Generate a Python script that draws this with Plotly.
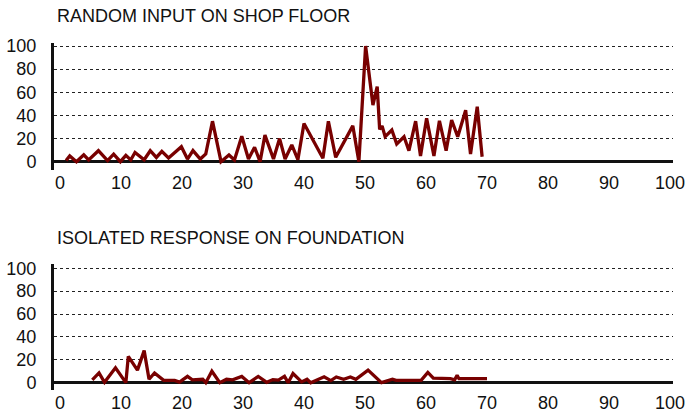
import plotly.graph_objects as go

# Top chart: random input on shop floor
top_x = [1, 1.6, 2.7, 3.9, 4.7, 6.3, 7.8, 8.8, 9.9, 10.8, 11.6, 12.3, 13.8, 14.8, 15.8,
         16.7, 17.8, 19.9, 20.9, 21.8, 23, 23.9, 25, 26.4, 27.7, 28.6, 29.8, 30.9, 31.9,
         32.8, 33.6, 35, 36, 36.9, 38, 39, 40, 43.1, 44, 45.2, 48, 49, 50.1, 51.3, 52,
         52.4, 52.8, 53.3, 54.4, 55.2, 56.4, 57.2, 58.3, 59.1, 60.1, 61.3, 62.2, 63.3,
         64.2, 65.2, 66.5, 67.3, 68.4, 69.2]
top_y = [1, 5, 0, 6, 1.5, 9.5, 1, 6.5, 0, 5.5, 1.5, 8, 1.7, 9.5, 3.7,
         9, 3.3, 13, 2.3, 9.6, 2.3, 6.7, 35, 0, 5.8, 1.4, 22, 2.3, 12.5,
         0, 23, 2.3, 20, 2.3, 14.5, 1.7, 33, 3, 35, 3.8, 31, 0, 100, 49, 65,
         28, 31, 21.6, 27.4, 15.3, 21.6, 9.5, 35, 5, 37.5, 5, 35.4, 9.5,
         36, 21.6, 44.5, 6.6, 47.5, 4.3]

# Bottom chart: isolated response on foundation
bot_x = [5.3, 6.4, 7.3, 9.1, 10.8, 11.2, 12.7, 13.8, 14.6, 15.5, 17, 18.8, 19.6, 20.9,
         21.7, 23.4, 23.9, 24.9, 26.2, 27.3, 28.3, 29.8, 31, 32.5, 33.9, 34.9, 35.8,
         36.8, 37.4, 38.2, 39.6, 40.5, 41.1, 43.3, 44.4, 45.3, 46.5, 47.6, 48.5, 50.5,
         52.7, 54.5, 55.1, 59.2, 60.3, 61.2, 64, 64.7, 65.1, 65.4, 70]
bot_y = [2.5, 8.5, 0.3, 13, 0, 23, 11, 28, 3, 8.5, 2, 2, 0.5, 5.5,
         2.5, 3, 0, 10, 0, 3, 2.5, 5.5, 0, 5.5, 0.3, 2.7, 2.3,
         5.5, 0, 8, 0.7, 3, 0, 5.2, 1.8, 5, 3, 5, 3, 11,
         0, 3, 2, 2, 9, 4, 3.5, 2.5, 6.5, 3.5, 3.5]

titles = ["RANDOM INPUT ON SHOP FLOOR", "ISOLATED RESPONSE ON FOUNDATION"]
x_ticks = [0, 10, 20, 30, 40, 50, 60, 70, 80, 90, 100]
y_ticks = [0, 20, 40, 60, 80, 100]

W, H = 686, 417
LINE = "#780000"
FONT = "Liberation Sans, Arial, Helvetica, sans-serif"

fig = go.Figure()
fig.add_trace(go.Scatter(x=top_x, y=top_y, mode="lines", line=dict(color=LINE, width=3.3),
                         xaxis="x", yaxis="y", hoverinfo="skip"))
fig.add_trace(go.Scatter(x=bot_x, y=bot_y, mode="lines", line=dict(color=LINE, width=3.3),
                         xaxis="x2", yaxis="y2", hoverinfo="skip"))

xdom = [54 / W, 673 / W]
xrange = [-0.98, 100.49]

def xa(anchor):
    return dict(domain=xdom, range=xrange, anchor=anchor, tickvals=x_ticks,
                ticktext=[str(v) for v in x_ticks], showgrid=False, zeroline=False,
                showline=False, ticks="",
                tickfont=dict(family=FONT, size=18, color="#111"), fixedrange=True)

def ya(anchor, dom, rng):
    return dict(domain=dom, range=rng, anchor=anchor, tickvals=y_ticks,
                ticktext=[str(v) for v in y_ticks], showgrid=True, gridcolor="#222",
                griddash="dot", gridwidth=1, zeroline=True, zerolinecolor="#111",
                zerolinewidth=3, showline=True, linecolor="#111", linewidth=3,
                ticks="outside", ticklen=11, tickcolor="rgba(0,0,0,0)",
                tickfont=dict(family=FONT, size=18, color="#111"), fixedrange=True)

fig.update_layout(
    width=W, height=H,
    margin=dict(l=0, r=0, t=0, b=0, autoexpand=False),
    paper_bgcolor="white", plot_bgcolor="white",
    showlegend=False,
    xaxis=xa("y"),
    yaxis=ya("x", [1 - 170 / H, 1 - 43 / H], [-7.17, 102.6]),
    xaxis2=xa("y2"),
    yaxis2=ya("x2", [1 - 390 / H, 1 - 264.3 / H], [-6.4, 103.5]),
    annotations=[
        dict(text=titles[0], xref="paper", yref="paper", x=55 / W, y=1 - 16 / H,
             xanchor="left", yanchor="middle", showarrow=False,
             font=dict(family=FONT, size=18, color="#111")),
        dict(text=titles[1], xref="paper", yref="paper", x=55 / W, y=1 - 238 / H,
             xanchor="left", yanchor="middle", showarrow=False,
             font=dict(family=FONT, size=18, color="#111")),
    ],
)

fig.write_html("out.html", config={"displayModeBar": False},
               post_script="document.body.style.margin='0';document.body.style.overflow='hidden';")
